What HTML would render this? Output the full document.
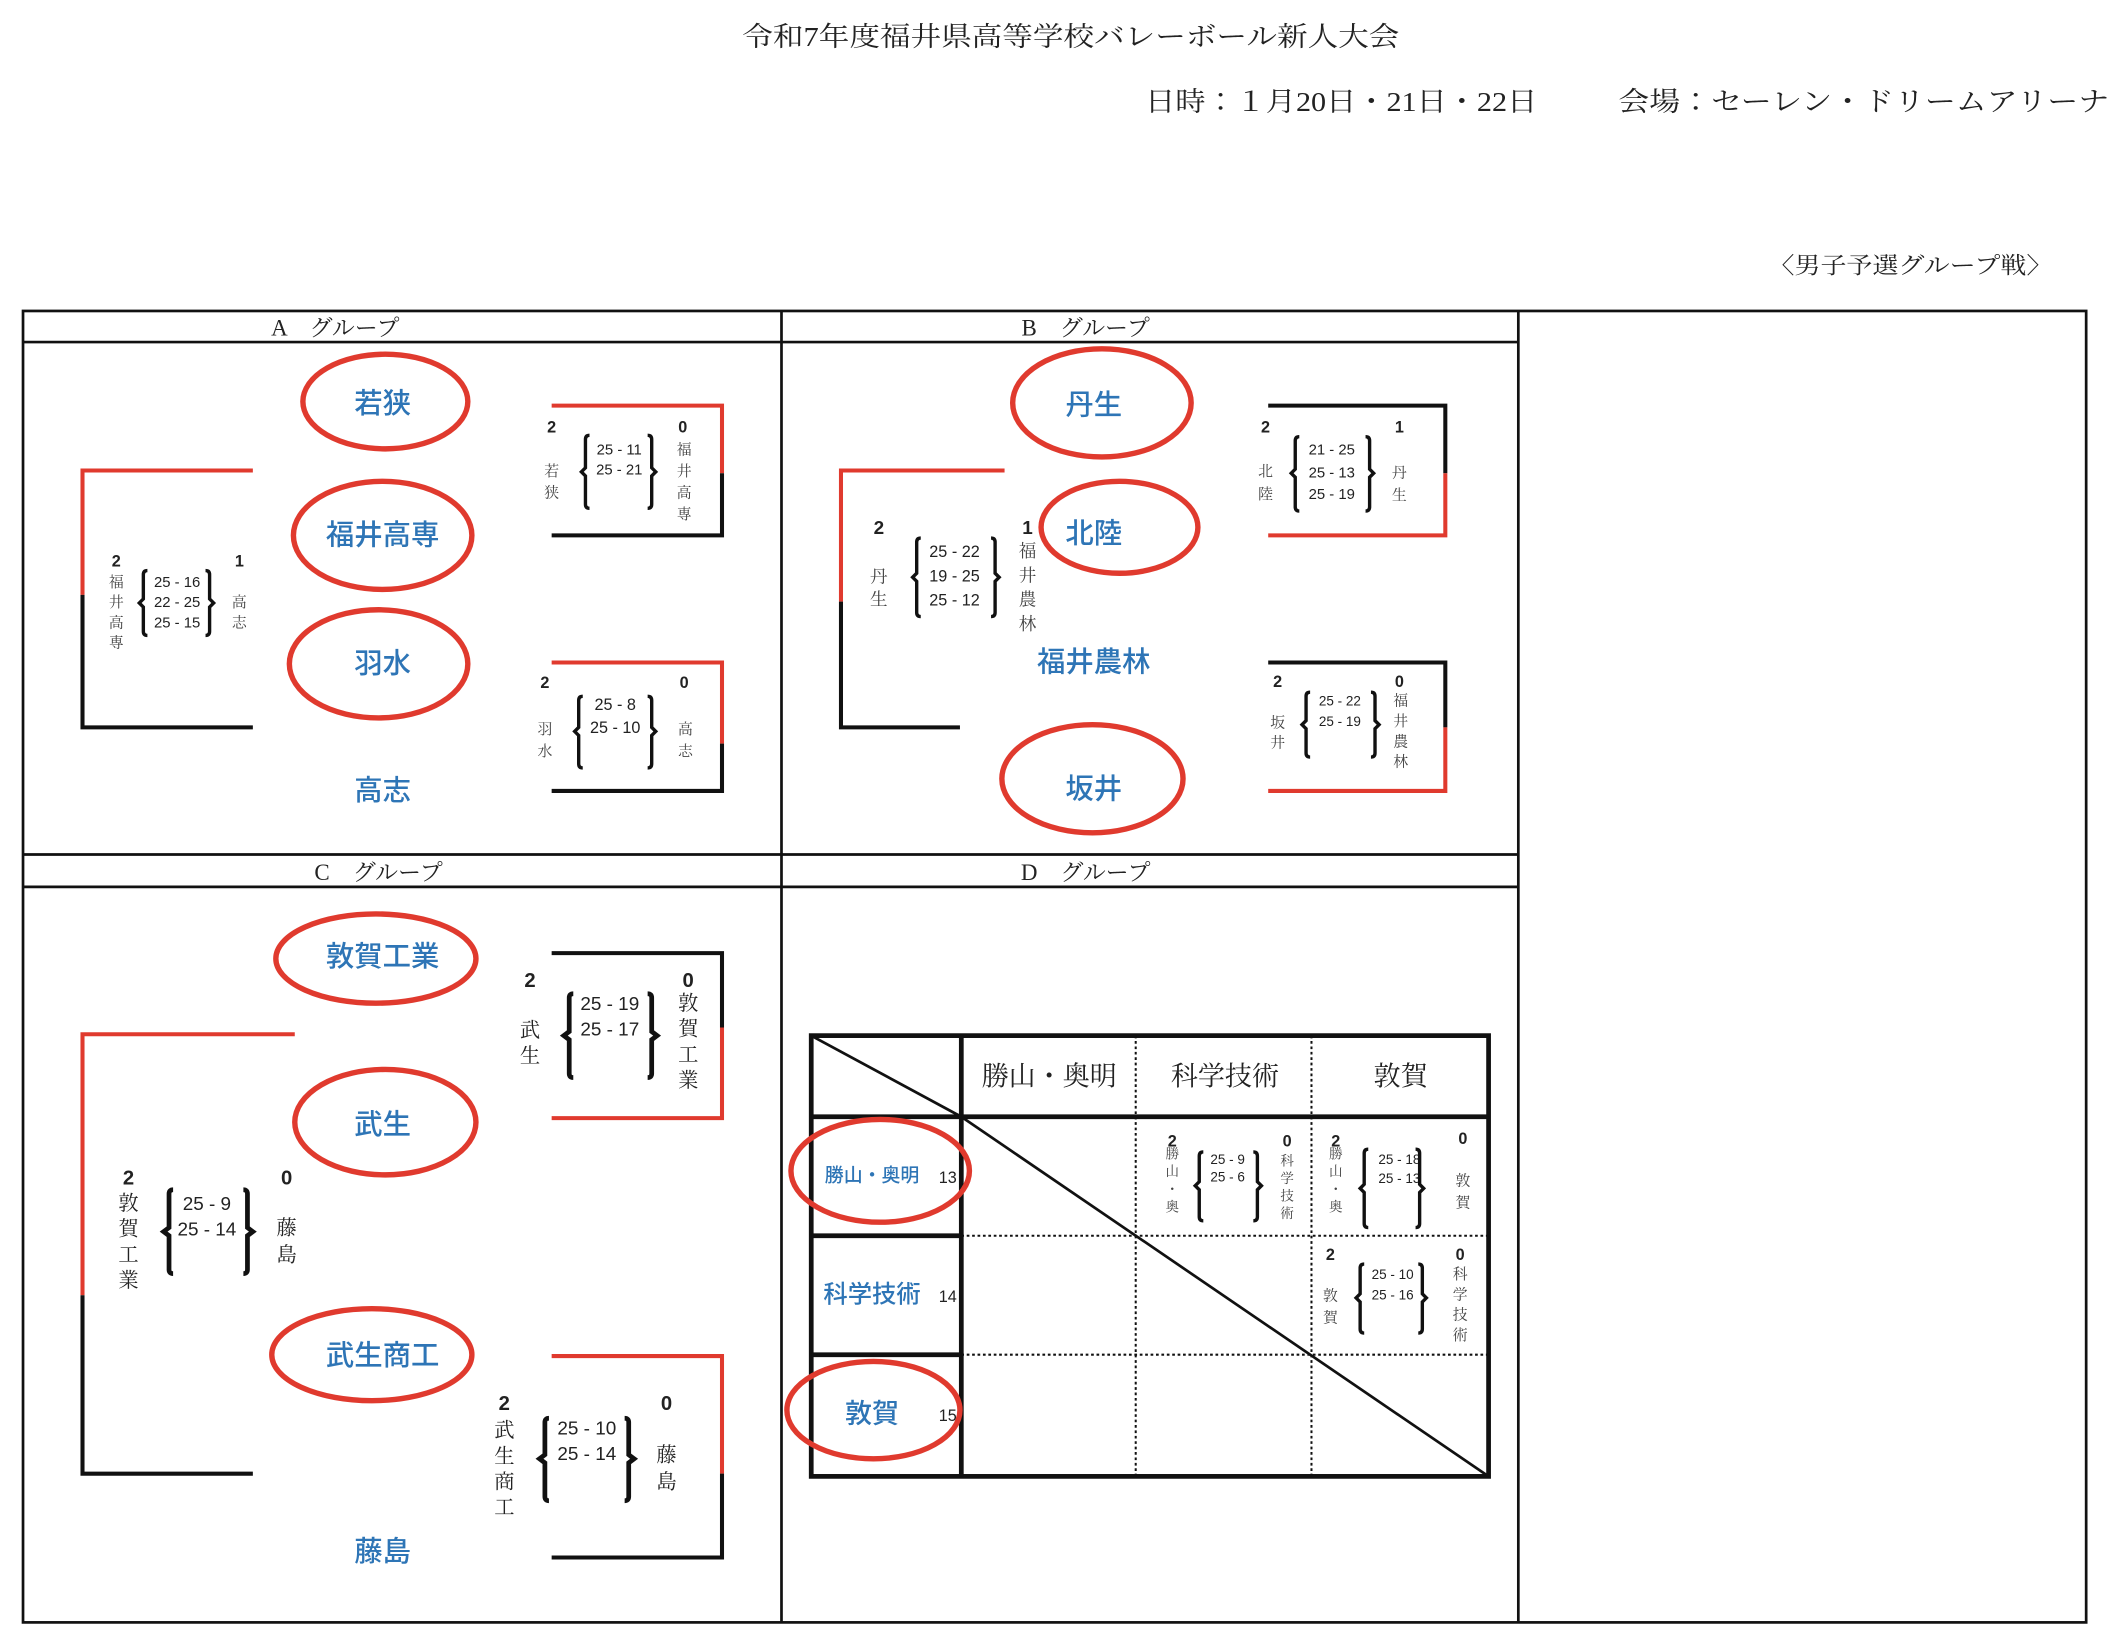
<!DOCTYPE html>
<html><head><meta charset="utf-8"><style>
html,body{margin:0;padding:0;background:#fff;}
svg{display:block}
text{font-family:"Liberation Serif","Noto Serif CJK JP",serif;fill:#222;}
.t{font-size:20px;}
.h{font-size:17px;}
.b{font-family:"Liberation Sans","Noto Sans CJK JP",sans-serif;fill:#2e75b6;font-size:21px;font-weight:500;text-anchor:middle;dominant-baseline:central;}
.n{font-family:"Liberation Sans",sans-serif;font-size:12px;font-weight:bold;text-anchor:middle;}
.s{font-family:"Liberation Sans",sans-serif;font-size:11px;text-anchor:middle;}
.v{font-size:11px;text-anchor:middle;fill:#444;}
.el{fill:none;stroke:#e03a2e;stroke-width:4;}
.r{stroke:#e03a2e;stroke-width:3;fill:none;}
.k{stroke:#111;stroke-width:3;fill:none;}
.br{stroke:#111;stroke-width:2.5;fill:none;}
</style></head><body>
<svg width="2120" height="1642" viewBox="0 0 1568 1214.5" xmlns="http://www.w3.org/2000/svg">
<text x="549" y="34" class="t" textLength="486" lengthAdjust="spacingAndGlyphs">令和7年度福井県高等学校バレーボール新人大会</text>
<text x="847" y="82" class="t" textLength="290" lengthAdjust="spacingAndGlyphs">日時：１月20日・21日・22日</text>
<text x="1197" y="82" class="t" textLength="363" lengthAdjust="spacingAndGlyphs">会場：セーレン・ドリームアリーナ</text>
<text x="1308" y="202" class="h" textLength="210" lengthAdjust="spacingAndGlyphs">〈男子予選グループ戦〉</text>

<rect x="17" y="230" width="1526" height="970" fill="none" stroke="#111" stroke-width="2"/>
<line x1="578" y1="230" x2="578" y2="1200" stroke="#111" stroke-width="2"/>
<line x1="1123" y1="230" x2="1123" y2="1200" stroke="#111" stroke-width="2"/>
<line x1="17" y1="253" x2="1123" y2="253" stroke="#111" stroke-width="2"/>
<line x1="17" y1="632" x2="1123" y2="632" stroke="#111" stroke-width="2"/>
<line x1="17" y1="656" x2="1123" y2="656" stroke="#111" stroke-width="2"/>
<text x="248" y="248" class="h" text-anchor="middle">A　グループ</text>
<text x="803" y="248" class="h" text-anchor="middle">B　グループ</text>
<text x="280" y="651" class="h" text-anchor="middle">C　グループ</text>
<text x="803" y="651" class="h" text-anchor="middle">D　グループ</text>

<!-- Group A -->
<ellipse cx="285" cy="297" rx="61" ry="35" class="el"/>
<ellipse cx="283" cy="396" rx="66" ry="40" class="el"/>
<ellipse cx="280" cy="491" rx="66" ry="40" class="el"/>
<text x="283" y="299" class="b">若狭</text>
<text x="283" y="396" class="b">福井高専</text>
<text x="283" y="491" class="b">羽水</text>
<text x="283" y="585" class="b">高志</text>
<path d="M187 348 H61 V440" class="r"/><path d="M61 440 V538 H187" class="k"/>
<text x="86" y="419" class="n">2</text><text x="177" y="419" class="n">1</text>
<text class="v"><tspan x="86" y="434">福</tspan><tspan x="86" y="449">井</tspan><tspan x="86" y="464">高</tspan><tspan x="86" y="479">専</tspan></text>
<text class="v"><tspan x="177" y="449">高</tspan><tspan x="177" y="464">志</tspan></text>
<text class="s"><tspan x="131" y="434">25 - 16</tspan><tspan x="131" y="449">22 - 25</tspan><tspan x="131" y="464">25 - 15</tspan></text>
<path d="M109 422 Q106 422 106 425 V443 L103 446 L106 449 V467 Q106 470 109 470" class="br"/>
<path d="M152 422 Q155 422 155 425 V443 L158 446 L155 449 V467 Q155 470 152 470" class="br"/>

<path d="M408 300 H534 V350" class="r"/><path d="M534 350 V396 H408" class="k"/>
<text x="408" y="320" class="n">2</text><text x="505" y="320" class="n">0</text>
<text class="v"><tspan x="408" y="352">若</tspan><tspan x="408" y="368">狭</tspan></text>
<text class="s"><tspan x="458" y="336">25 - 11</tspan><tspan x="458" y="351">25 - 21</tspan></text>
<text class="v"><tspan x="506" y="336">福</tspan><tspan x="506" y="352">井</tspan><tspan x="506" y="368">高</tspan><tspan x="506" y="384">専</tspan></text>
<path d="M436 322 Q433 322 433 325 V346 L430 349 L433 352 V373 Q433 376 436 376" class="br"/>
<path d="M479 322 Q482 322 482 325 V346 L485 349 L482 352 V373 Q482 376 479 376" class="br"/>

<path d="M408 490 H534 V550" class="r"/><path d="M534 550 V585 H408" class="k"/>
<text x="403" y="509" class="n">2</text><text x="506" y="509" class="n">0</text>
<text class="v"><tspan x="403" y="543">羽</tspan><tspan x="403" y="559">水</tspan></text>
<text class="s" style="font-size:12px"><tspan x="455" y="525">25 - 8</tspan><tspan x="455" y="542">25 - 10</tspan></text>
<text class="v"><tspan x="507" y="543">高</tspan><tspan x="507" y="559">志</tspan></text>
<path d="M431 515 Q428 515 428 518 V538 L425 541 L428 544 V565 Q428 568 431 568" class="br"/>
<path d="M479 515 Q482 515 482 518 V538 L485 541 L482 544 V565 Q482 568 479 568" class="br"/>

<!-- Group B -->
<ellipse cx="815" cy="298" rx="66" ry="40" class="el"/>
<ellipse cx="828" cy="390" rx="58" ry="34" class="el"/>
<ellipse cx="808" cy="576" rx="67" ry="40" class="el"/>
<text x="809" y="300" class="b">丹生</text>
<text x="809" y="395" class="b">北陸</text>
<text x="809" y="490" class="b">福井農林</text>
<text x="809" y="584" class="b">坂井</text>
<path d="M743 348 H622 V445" class="r"/><path d="M622 445 V538 H710" class="k"/>
<text x="650" y="395" class="n" style="font-size:14px">2</text><text x="760" y="395" class="n" style="font-size:14px">1</text>
<text class="v" style="font-size:13px"><tspan x="650" y="431">丹</tspan><tspan x="650" y="448">生</tspan></text>
<text class="s" style="font-size:12px"><tspan x="706" y="412">25 - 22</tspan><tspan x="706" y="430">19 - 25</tspan><tspan x="706" y="448">25 - 12</tspan></text>
<text class="v" style="font-size:13px"><tspan x="760" y="412">福</tspan><tspan x="760" y="430">井</tspan><tspan x="760" y="448">農</tspan><tspan x="760" y="466">林</tspan></text>
<path d="M681 398 Q678 398 678 401 V424 L675 427 L678 430 V453 Q678 456 681 456" class="br"/>
<path d="M733 398 Q736 398 736 401 V424 L739 427 L736 430 V453 Q736 456 733 456" class="br"/>

<path d="M938 300 H1069 V350" class="k"/><path d="M1069 350 V396 H938" class="r"/>
<text x="936" y="320" class="n">2</text><text x="1035" y="320" class="n">1</text>
<text class="v"><tspan x="936" y="352">北</tspan><tspan x="936" y="369">陸</tspan></text>
<text class="s"><tspan x="985" y="336">21 - 25</tspan><tspan x="985" y="353">25 - 13</tspan><tspan x="985" y="369">25 - 19</tspan></text>
<text class="v"><tspan x="1035" y="353">丹</tspan><tspan x="1035" y="370">生</tspan></text>
<path d="M961 323 Q958 323 958 326 V347 L955 350 L958 353 V375 Q958 378 961 378" class="br"/>
<path d="M1010 323 Q1013 323 1013 326 V347 L1016 350 L1013 353 V375 Q1013 378 1010 378" class="br"/>

<path d="M938 490 H1069 V538" class="k"/><path d="M1069 538 V585 H938" class="r"/>
<text x="945" y="508" class="n">2</text><text x="1035" y="508" class="n">0</text>
<text class="v"><tspan x="945" y="538">坂</tspan><tspan x="945" y="553">井</tspan></text>
<text class="s" style="font-size:10px"><tspan x="991" y="522">25 - 22</tspan><tspan x="991" y="537">25 - 19</tspan></text>
<text class="v"><tspan x="1036" y="522">福</tspan><tspan x="1036" y="537">井</tspan><tspan x="1036" y="552">農</tspan><tspan x="1036" y="567">林</tspan></text>
<path d="M969 512 Q966 512 966 515 V533 L963 536 L966 539 V557 Q966 560 969 560" class="br"/>
<path d="M1014 512 Q1017 512 1017 515 V533 L1020 536 L1017 539 V557 Q1017 560 1014 560" class="br"/>

<!-- Group C -->
<ellipse cx="278" cy="709" rx="74" ry="33" class="el"/>
<ellipse cx="285" cy="830" rx="67" ry="39" class="el"/>
<ellipse cx="275" cy="1002" rx="74" ry="34" class="el"/>
<text x="283" y="708" class="b">敦賀工業</text>
<text x="283" y="832" class="b">武生</text>
<text x="283" y="1003" class="b">武生商工</text>
<text x="283" y="1148" class="b">藤島</text>
<path d="M218 765 H61 V958" class="r"/><path d="M61 958 V1090 H187" class="k"/>
<text x="95" y="876" class="n" style="font-size:15px">2</text><text x="212" y="876" class="n" style="font-size:15px">0</text>
<text class="v" style="font-size:15px;fill:#222"><tspan x="95" y="895">敦</tspan><tspan x="95" y="914">賀</tspan><tspan x="95" y="933">工</tspan><tspan x="95" y="952">業</tspan></text>
<text class="s" style="font-size:14px"><tspan x="153" y="895">25 - 9</tspan><tspan x="153" y="914">25 - 14</tspan></text>
<text class="v" style="font-size:15px;fill:#222"><tspan x="212" y="913">藤</tspan><tspan x="212" y="933">島</tspan></text>
<path d="M128 880 Q125 880 125 883 V908 L121 911 L125 914 V939 Q125 942 128 942" class="br" style="stroke-width:3.5"/>
<path d="M180 880 Q183 880 183 883 V908 L187 911 L183 914 V939 Q183 942 180 942" class="br" style="stroke-width:3.5"/>

<path d="M408 705 H534 V760" class="k"/><path d="M534 760 V827 H408" class="r"/>
<text x="392" y="730" class="n" style="font-size:15px">2</text><text x="509" y="730" class="n" style="font-size:15px">0</text>
<text class="v" style="font-size:15px;fill:#222"><tspan x="392" y="767">武</tspan><tspan x="392" y="786">生</tspan></text>
<text class="s" style="font-size:14px"><tspan x="451" y="747">25 - 19</tspan><tspan x="451" y="766">25 - 17</tspan></text>
<text class="v" style="font-size:15px;fill:#222"><tspan x="509" y="747">敦</tspan><tspan x="509" y="766">賀</tspan><tspan x="509" y="785">工</tspan><tspan x="509" y="804">業</tspan></text>
<path d="M424 735 Q421 735 421 738 V763 L417 766 L421 769 V794 Q421 797 424 797" class="br" style="stroke-width:3.5"/>
<path d="M479 735 Q482 735 482 738 V763 L486 766 L482 769 V794 Q482 797 479 797" class="br" style="stroke-width:3.5"/>

<path d="M408 1003 H534 V1090" class="r"/><path d="M534 1090 V1152 H408" class="k"/>
<text x="373" y="1043" class="n" style="font-size:15px">2</text><text x="493" y="1043" class="n" style="font-size:15px">0</text>
<text class="v" style="font-size:15px;fill:#222"><tspan x="373" y="1063">武</tspan><tspan x="373" y="1082">生</tspan><tspan x="373" y="1101">商</tspan><tspan x="373" y="1120">工</tspan></text>
<text class="s" style="font-size:14px"><tspan x="434" y="1061">25 - 10</tspan><tspan x="434" y="1080">25 - 14</tspan></text>
<text class="v" style="font-size:15px;fill:#222"><tspan x="493" y="1081">藤</tspan><tspan x="493" y="1101">島</tspan></text>
<path d="M406 1049 Q403 1049 403 1052 V1076 L399 1079 L403 1082 V1107 Q403 1110 406 1110" class="br" style="stroke-width:3.5"/>
<path d="M462 1049 Q465 1049 465 1052 V1076 L469 1079 L465 1082 V1107 Q465 1110 462 1110" class="br" style="stroke-width:3.5"/>

<!-- Group D -->
<rect x="600" y="766" width="501" height="326" fill="none" stroke="#111" stroke-width="3.5"/>
<line x1="711" y1="766" x2="711" y2="1092" stroke="#111" stroke-width="3.5"/>
<line x1="840" y1="766" x2="840" y2="1092" stroke="#111" stroke-width="1.5" stroke-dasharray="2,2"/>
<line x1="970" y1="766" x2="970" y2="1092" stroke="#111" stroke-width="1.5" stroke-dasharray="2,2"/>
<line x1="600" y1="826" x2="1101" y2="826" stroke="#111" stroke-width="3.5"/>
<line x1="600" y1="914" x2="711" y2="914" stroke="#111" stroke-width="3.5"/>
<line x1="600" y1="1002" x2="711" y2="1002" stroke="#111" stroke-width="3.5"/>
<line x1="711" y1="914" x2="1101" y2="914" stroke="#111" stroke-width="1.5" stroke-dasharray="2,2"/>
<line x1="711" y1="1002" x2="1101" y2="1002" stroke="#111" stroke-width="1.5" stroke-dasharray="2,2"/>
<line x1="600" y1="766" x2="711" y2="826" stroke="#111" stroke-width="2"/>
<line x1="711" y1="826" x2="1101" y2="1092" stroke="#111" stroke-width="2"/>
<text x="776" y="803" class="t" text-anchor="middle" fill="#333">勝山・奥明</text>
<text x="906" y="803" class="t" text-anchor="middle">科学技術</text>
<text x="1036" y="803" class="t" text-anchor="middle">敦賀</text>
<text x="645" y="870" class="b" style="font-size:14px">勝山・奥明</text>
<text x="645" y="958" class="b" style="font-size:18px">科学技術</text>
<text x="645" y="1046" class="b" style="font-size:20px">敦賀</text>
<text x="701" y="875" class="s" style="font-size:12px">13</text>
<text x="701" y="963" class="s" style="font-size:12px">14</text>
<text x="701" y="1051" class="s" style="font-size:12px">15</text>
<ellipse cx="651" cy="866" rx="66" ry="38" class="el"/>
<ellipse cx="646" cy="1043" rx="64" ry="36" class="el"/>

<text x="867" y="848" class="n">2</text><text x="952" y="848" class="n">0</text>
<text class="v" style="font-size:10px"><tspan x="867" y="857">勝</tspan><tspan x="867" y="870">山</tspan><tspan x="867" y="883">・</tspan><tspan x="867" y="896">奥</tspan></text>
<text class="s" style="font-size:10px"><tspan x="908" y="861">25 - 9</tspan><tspan x="908" y="874">25 - 6</tspan></text>
<text class="v" style="font-size:10px"><tspan x="952" y="862">科</tspan><tspan x="952" y="875">学</tspan><tspan x="952" y="888">技</tspan><tspan x="952" y="901">術</tspan></text>
<path d="M890 852 Q887 852 887 855 V874 L884 877 L887 880 V900 Q887 903 890 903" class="br"/>
<path d="M927 852 Q930 852 930 855 V874 L933 877 L930 880 V900 Q930 903 927 903" class="br"/>

<text x="988" y="848" class="n">2</text><text x="1082" y="846" class="n">0</text>
<text class="v" style="font-size:10px"><tspan x="988" y="857">勝</tspan><tspan x="988" y="870">山</tspan><tspan x="988" y="883">・</tspan><tspan x="988" y="896">奥</tspan></text>
<text class="s" style="font-size:10px"><tspan x="1035" y="861">25 - 18</tspan><tspan x="1035" y="875">25 - 13</tspan></text>
<text class="v"><tspan x="1082" y="877">敦</tspan><tspan x="1082" y="893">賀</tspan></text>
<path d="M1012 850 Q1009 850 1009 853 V876 L1006 879 L1009 882 V905 Q1009 908 1012 908" class="br"/>
<path d="M1047 850 Q1050 850 1050 853 V876 L1053 879 L1050 882 V905 Q1050 908 1047 908" class="br"/>

<text x="984" y="932" class="n">2</text><text x="1080" y="932" class="n">0</text>
<text class="v"><tspan x="984" y="962">敦</tspan><tspan x="984" y="978">賀</tspan></text>
<text class="s" style="font-size:10px"><tspan x="1030" y="946">25 - 10</tspan><tspan x="1030" y="961">25 - 16</tspan></text>
<text class="v"><tspan x="1080" y="946">科</tspan><tspan x="1080" y="961">学</tspan><tspan x="1080" y="976">技</tspan><tspan x="1080" y="991">術</tspan></text>
<path d="M1009 935 Q1006 935 1006 938 V957 L1003 960 L1006 963 V983 Q1006 986 1009 986" class="br"/>
<path d="M1049 935 Q1052 935 1052 938 V957 L1055 960 L1052 963 V983 Q1052 986 1049 986" class="br"/>
</svg>
</body></html>
